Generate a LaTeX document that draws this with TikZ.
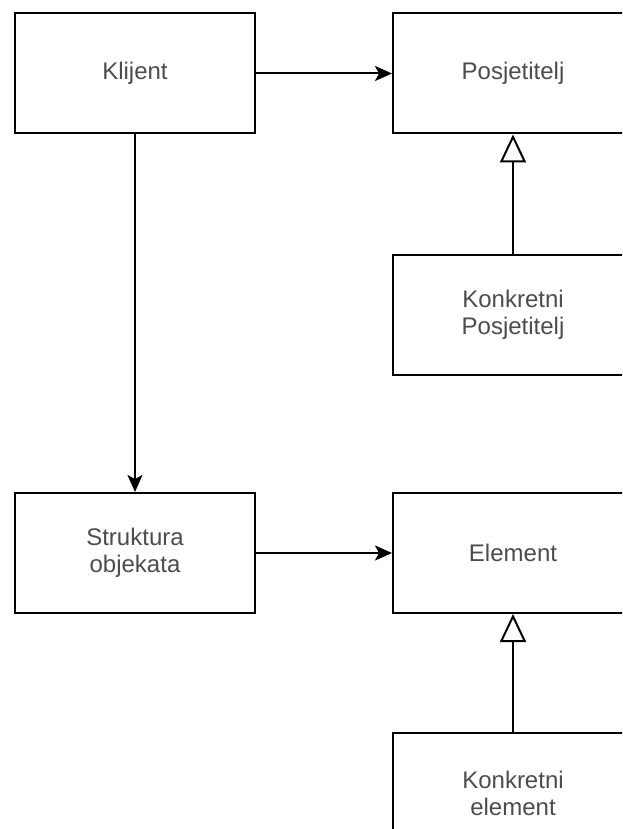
\documentclass[tikz,border=0pt]{standalone}
\usepackage{fontspec}
\setmainfont{Liberation Sans}
\usepackage{xcolor}
\usetikzlibrary{arrows.meta,positioning}

\begin{document}
\begin{tikzpicture}[
    x=1pt, y=-1pt,
    box/.style={rectangle, draw=black, line width=2pt, minimum width=240pt, minimum height=120pt, align=center, text=black!70, font=\fontsize{24}{27}\selectfont},
    assoc/.style={-{Stealth[length=17pt, width=15pt, inset=4pt]}, line width=2pt},
    inherit/.style={-{Triangle[open, length=28pt, width=26pt, fill=white]}, line width=2pt}
]

% Page frame
\useasboundingbox (0,0) rectangle (622,829);
\clip (0,0) rectangle (622,829);

% Boxes
\node[box] (klijent) at (135,73.5) {Klijent};
\node[box] (posjetitelj) at (513,73.5) {Posjetitelj};
\node[box] (konkPosjetitelj) at (513,315) {Konkretni\\Posjetitelj};
\node[box] (struktura) at (135,553) {Struktura\\objekata};
\node[box] (element) at (513,553) {Element};
\node[box] (konkElement) at (513,793) {Konkretni\\element};

% Arrows
\draw[assoc] (klijent) -- (posjetitelj);
\draw[assoc] (klijent) -- (struktura);
\draw[assoc] (struktura) -- (element);
\draw[inherit] (konkPosjetitelj) -- (posjetitelj);
\draw[inherit] (konkElement) -- (element);

\end{tikzpicture}
\end{document}
